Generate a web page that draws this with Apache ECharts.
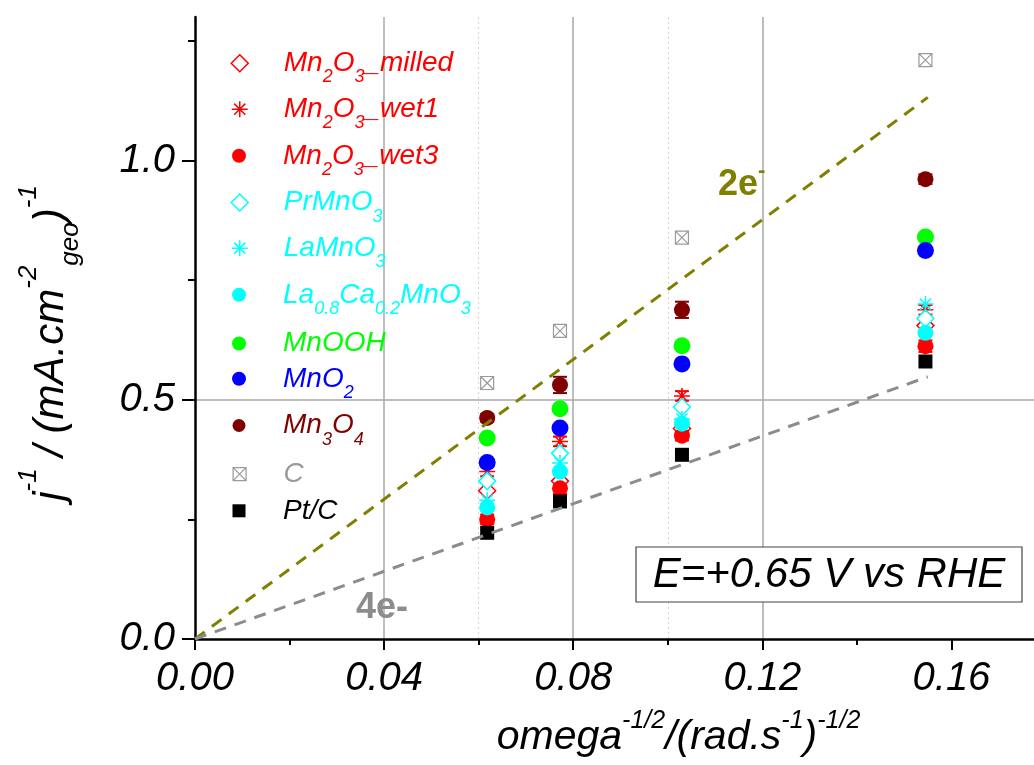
<!DOCTYPE html>
<html><head><meta charset="utf-8">
<script src="https://cdn.jsdelivr.net/npm/echarts@6/dist/echarts.min.js"></script>
<style>html,body{margin:0;padding:0;background:#fff}#c{width:1034px;height:765px}</style>
</head><body><div id="c"></div>
<script>
// ---------------- data ----------------
const xVals = [0.0618, 0.0772, 0.1030, 0.1545];
const mn2o3Milled = [0.310, 0.330, 0.440, 0.655];
const mn2o3Wet1   = [0.350, 0.413, 0.508, 0.688];
const mn2o3Wet1Err = [0.010, 0.010, 0.010, 0.010];
const mn2o3Wet3   = [0.250, 0.315, 0.425, 0.612];
const mn2o3Wet3Err = [0.010, 0.012, 0.010, 0.012];
const prMnO3      = [0.330, 0.388, 0.485, 0.670];
const laMnO3      = [0.290, 0.368, 0.460, 0.700];
const laCaMnO3    = [0.275, 0.350, 0.450, 0.640];
const mnOOH       = [0.420, 0.481, 0.613, 0.840];
const mnO2        = [0.369, 0.441, 0.575, 0.812];
const mn3O4       = [0.462, 0.531, 0.688, 0.961];
const mn3O4Err    = [0.008, 0.017, 0.017, 0.010];
const carbon      = [0.535, 0.644, 0.839, 1.210];
const ptC         = [0.222, 0.2875, 0.385, 0.580];
const lineX  = [0, 0.155];
const line2e = [0, 1.132];
const line4e = [0, 0.548];
const xTicks = [0, 0.04, 0.08, 0.12, 0.16];
const xMinorTicks = [0.02, 0.06, 0.10, 0.14];
const yTicks = [0, 0.5, 1.0];
const yMinorTicks = [0.25, 0.75, 1.25];

// ---------------- styles ----------------
const FF = '"Liberation Sans", Arial, sans-serif';
const ASTER = 'path://M10,0L10,20M0,10L20,10M3,3L17,17M17,3L3,17';
const BOXX = 'path://M0,0L20,0L20,20L0,20ZM0,0L20,20M20,0L0,20';

const defs = [
  {name:'Mn2O3_milled', vals:mn2o3Milled, symbol:'diamond', size:17, color:'#ff0000', fill:'#ffffff', bw:1.5, lsize:17,
   label:'{n|Mn}{sub|2}{n|O}{sub|3}{n|_milled}'},
  {name:'Mn2O3_wet1', vals:mn2o3Wet1, symbol:ASTER, size:16, color:'#ff0000', fill:'#ff0000', bw:1.5, lsize:16,
   label:'{n|Mn}{sub|2}{n|O}{sub|3}{n|_wet1}'},
  {name:'Mn2O3_wet3', vals:mn2o3Wet3, symbol:'circle', size:16, color:'#ff0000', fill:'#ff0000', bw:0, lsize:14,
   label:'{n|Mn}{sub|2}{n|O}{sub|3}{n|_wet3}'},
  {name:'PrMnO3', vals:prMnO3, symbol:'diamond', size:17, color:'#00ffff', fill:'#ffffff', bw:1.5, lsize:17,
   label:'{n|PrMnO}{sub|3}'},
  {name:'LaMnO3', vals:laMnO3, symbol:ASTER, size:16, color:'#00ffff', fill:'#00ffff', bw:1.5, lsize:16,
   label:'{n|LaMnO}{sub|3}'},
  {name:'La0.8Ca0.2MnO3', vals:laCaMnO3, symbol:'circle', size:16, color:'#00ffff', fill:'#00ffff', bw:0, lsize:14,
   label:'{n|La}{sub|0.8}{n|Ca}{sub|0.2}{n|MnO}{sub|3}'},
  {name:'MnOOH', vals:mnOOH, symbol:'circle', size:17, color:'#00ff00', fill:'#00ff00', bw:0, lsize:14,
   label:'{n|MnOOH}'},
  {name:'MnO2', vals:mnO2, symbol:'circle', size:17, color:'#0000ff', fill:'#0000ff', bw:0, lsize:14,
   label:'{n|MnO}{sub|2}'},
  {name:'Mn3O4', vals:mn3O4, symbol:'circle', size:16, color:'#800000', fill:'#800000', bw:0, lsize:13,
   label:'{n|Mn}{sub|3}{n|O}{sub|4}'},
  {name:'C', vals:carbon, symbol:BOXX, size:13, color:'#9a9a9a', fill:'#ffffff', bw:1.2, lsize:13,
   label:'{n|C}'},
  {name:'Pt/C', vals:ptC, symbol:'rect', size:14, color:'#000000', fill:'#000000', bw:0, lsize:13,
   label:'{n|Pt/C}'}
];
const legendCenters = [61.7, 107.7, 154.3, 201, 246.7, 293.3, 340, 377.3, 424, 470.7, 507.3];

function legendRich(color) {
  return {
    n:   {fontSize:28, fontStyle:'italic', fontFamily:FF, color:color, lineHeight:46},
    sub: {fontSize:18, fontStyle:'italic', fontFamily:FF, color:color, lineHeight:18, padding:[28,0,0,0]}
  };
}

function errSeries(vals, errs, color, halfW) {
  return {
    type:'custom', z:2, silent:true,
    data: xVals.map((x,i) => [x, vals[i], errs[i]]),
    encode:{x:0, y:1},
    renderItem: function(params, api) {
      const x = api.value(0), y = api.value(1), e = api.value(2);
      const t = api.coord([x, y + e]), b = api.coord([x, y - e]);
      const st = {stroke:color, lineWidth:2};
      return {type:'group', children:[
        {type:'line', shape:{x1:t[0], y1:t[1], x2:b[0], y2:b[1]}, style:st},
        {type:'line', shape:{x1:t[0]-halfW, y1:t[1], x2:t[0]+halfW, y2:t[1]}, style:st},
        {type:'line', shape:{x1:b[0]-halfW, y1:b[1], x2:b[0]+halfW, y2:b[1]}, style:st}
      ]};
    }
  };
}

const series = defs.map(d => ({
  type:'scatter', name:d.name,
  data: xVals.map((x,i) => [x, d.vals[i]]),
  symbol:d.symbol, symbolSize:d.size, symbolKeepAspect:true,
  itemStyle:{color:d.fill, borderColor:d.color, borderWidth:d.bw, opacity:1},
  emphasis:{disabled:true}, z:3
}));

series.unshift(errSeries(mn3O4, mn3O4Err, '#800000', 7));
series.unshift(errSeries(mn2o3Wet1, mn2o3Wet1Err, '#ff0000', 7));
series.unshift(errSeries(mn2o3Wet3, mn2o3Wet3Err, '#ff0000', 7));

series.push({
  type:'line', name:'2e', data: lineX.map((x,i) => [x, line2e[i]]),
  showSymbol:false, silent:true, z:5,
  lineStyle:{color:'#808000', width:3, type:[12,9]}
});
series.push({
  type:'line', name:'4e', data: lineX.map((x,i) => [x, line4e[i]]),
  showSymbol:false, silent:true, z:5,
  lineStyle:{color:'#8c8c8c', width:3, type:[12,9]}
});

const legends = defs.map((d,i) => {
  const hasSub = d.label.indexOf('sub|') >= 0;
  return {
    data:[d.name], orient:'vertical', left: 239 - d.lsize/2,
    top: legendCenters[i] - 21.5 + (hasSub ? 0 : 11),
    padding:0, itemWidth:d.lsize, itemHeight:d.lsize, selectedMode:false, symbolKeepAspect:true,
    itemStyle:{color:d.fill, borderColor:d.color, borderWidth:d.bw},
    formatter: function(){ return d.label; },
    textStyle:{color:d.color, fontSize:28, fontStyle:'italic', fontFamily:FF,
      padding:[0,0,0, 39 - d.lsize/2], rich: legendRich(d.color)}
  };
});

const axisBlack = {show:true, lineStyle:{color:'#000', width:2.5}};

const option = {
  animation:false,
  backgroundColor:'#fff',
  grid:{left:195, right:-12, top:17, bottom:126, containLabel:false, outerBoundsMode:'none'},
  legend: legends,
  xAxis:[
    {type:'value', min:0, max:0.18, interval:0.04, position:'bottom',
     axisLine:axisBlack,
     axisTick:{show:true, inside:false, length:11, customValues:xTicks, lineStyle:{color:'#000', width:2}},
     axisLabel:{customValues:xTicks, formatter:v => v.toFixed(2), fontSize:40, fontStyle:'italic', fontFamily:FF, color:'#000', margin:20},
     splitLine:{show:true, showMinLine:false, showMaxLine:false, lineStyle:{color:'#a8a8a8', width:1.5}},
     name:'{n|omega}{sup|-1/2}{n|/(rad.s}{sup|-1}{n|)}{sup|-1/2}',
     nameLocation:'middle', nameGap:70,
     nameTextStyle:{padding:[0,0,0,116], color:'#000',
       rich:{
         n:{fontSize:41, fontStyle:'italic', fontFamily:FF, color:'#000', lineHeight:58},
         sup:{fontSize:25, fontStyle:'italic', fontFamily:FF, color:'#000', lineHeight:24, padding:[0,0,34,0]}
       }}
    },
    {type:'value', min:0, max:0.18, interval:0.02, position:'bottom',
     axisLine:{show:false},
     axisTick:{show:true, inside:false, length:6, customValues:xMinorTicks, lineStyle:{color:'#000', width:2}},
     axisLabel:{show:false},
     splitLine:{show:true, showMinLine:false, showMaxLine:false, lineStyle:{color:'#d4d4d4', width:1, type:[2,3]}}
    }
  ],
  yAxis:[
    {type:'value', min:0, max:1.3, interval:0.5, position:'left',
     axisLine:axisBlack,
     axisTick:{show:true, inside:false, length:13, customValues:yTicks, lineStyle:{color:'#000', width:2}},
     axisLabel:{customValues:yTicks, formatter:v => v.toFixed(1), fontSize:40, fontStyle:'italic', fontFamily:FF, color:'#000', margin:20},
     splitLine:{show:true, showMinLine:false, showMaxLine:false, lineStyle:{color:'#a8a8a8', width:1.5}},
     name:'{n|j}{sup|-1}{n| / (mA.cm}{sup|-2}{sub|geo}{n|)}{sup|-1}',
     nameLocation:'middle', nameGap:110, nameRotate:90,
     nameTextStyle:{padding:[0,30,0,0], color:'#000',
       rich:{
         n:{fontSize:42, fontStyle:'italic', fontFamily:FF, color:'#000', lineHeight:68},
         sup:{fontSize:26, fontStyle:'italic', fontFamily:FF, color:'#000', lineHeight:24, padding:[0,0,44,0]},
         sub:{fontSize:26, fontStyle:'italic', fontFamily:FF, color:'#000', lineHeight:24, padding:[40,0,0,0]}
       }}
    },
    {type:'value', min:0, max:1.3, interval:0.25, position:'left',
     axisLine:{show:false},
     axisTick:{show:true, inside:false, length:7, customValues:yMinorTicks, lineStyle:{color:'#000', width:2}},
     axisLabel:{show:false},
     splitLine:{show:false}
    }
  ],
  series: series,
  graphic:[
    {type:'rect', z:20, shape:{x:636, y:547, width:386, height:55},
     style:{fill:'#fff', stroke:'#444', lineWidth:1.2}},
    {type:'text', z:21, x:829, y:575,
     style:{text:'E=+0.65 V vs RHE', fontSize:42, fontStyle:'italic', fontFamily:FF, fill:'#000', align:'center', verticalAlign:'middle'}},
    {type:'text', z:21, x:718, y:185,
     style:{text:'{a|2e}{b|-}', verticalAlign:'middle', align:'left',
       rich:{a:{fontSize:36, fontWeight:'bold', fontFamily:FF, fill:'#808000', lineHeight:50},
             b:{fontSize:22, fontWeight:'bold', fontFamily:FF, fill:'#808000', lineHeight:22, padding:[0,0,28,0]}}}},
    {type:'text', z:21, x:356, y:608,
     style:{text:'4e-', fontSize:36, fontWeight:'bold', fontFamily:FF, fill:'#8c8c8c', align:'left', verticalAlign:'middle'}}
  ]
};

const chart = echarts.init(document.getElementById('c'), null, {renderer:'canvas'});
chart.setOption(option);
</script>
</body></html>
